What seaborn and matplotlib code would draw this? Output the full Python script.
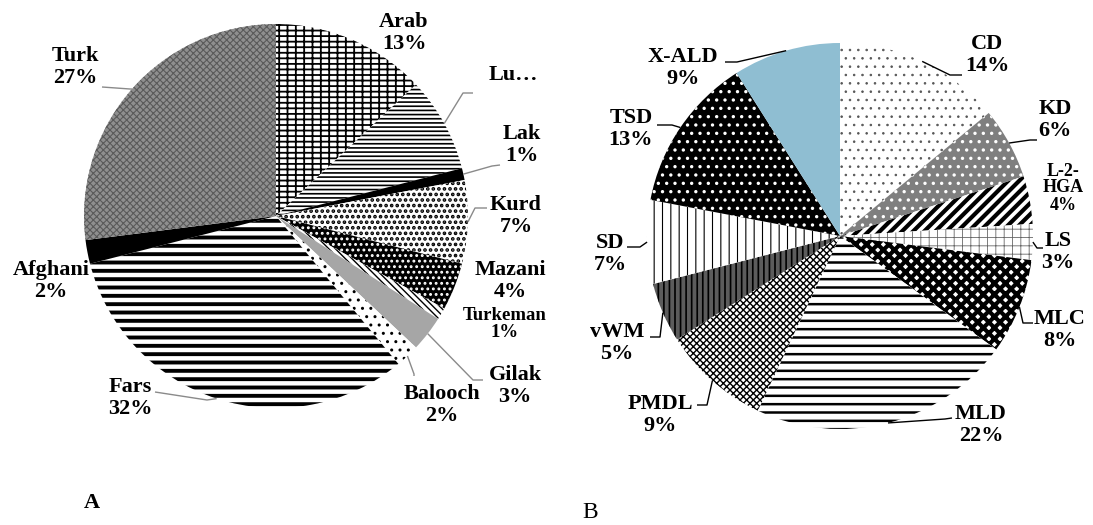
import matplotlib.pyplot as plt
import seaborn as sns
import numpy as np

sns.set_theme(style="white")
plt.rcParams['font.family'] = ['Liberation Serif', 'DejaVu Serif']
plt.rcParams['text.color'] = 'black'
plt.rcParams['hatch.linewidth'] = 1.0

# Pie A - ethnic groups (clockwise from 12 o'clock)
ethnic = ['Arab', 'Lu…', 'Lak', 'Kurd', 'Mazani', 'Turkeman', 'Gilak', 'Balooch', 'Fars', 'Afghani', 'Turk']
ethnic_pct = [13, 8, 1, 7, 4, 1, 3, 2, 32, 2, 27]

# Pie B - diagnoses (clockwise from 12 o'clock)
disease = ['CD', 'KD', 'L-2-HGA', 'LS', 'MLC', 'MLD', 'PMDL', 'vWM', 'SD', 'TSD', 'X-ALD']
disease_pct = [14, 6, 4, 3, 8, 22, 9, 5, 7, 13, 9]

# face colour, hatch, hatch colour, hatch width
style_a = [('white', '---||', 'black', 1.3),
           ('white', '----', 'black', 1.2),
           ('black', '', 'black', 1.0),
           ('white', '...', 'black', 1.8),
           ('black', '...', 'white', 1.3),
           ('white', '\\\\\\\\\\', 'black', 1.0),
           ('#a6a6a6', '', '#a6a6a6', 1.0),
           ('white', '..', 'black', 1.0),
           ('white', '--', 'black', 2.8),
           ('black', '', 'black', 1.0),
           ('#8f8f8f', 'xxxxx', '#5a5a5a', 0.8)]
style_b = [('white', '..', '#555555', 0.6),
           ('#7f7f7f', '..', 'white', 1.2),
           ('white', '///', 'black', 3.0),
           ('white', '++', '#666666', 0.6),
           ('white', 'xxx', 'black', 3.0),
           ('white', '--', 'black', 1.8),
           ('white', 'xxxxx', 'black', 1.0),
           ('#5c5c5c', '|||', 'black', 1.2),
           ('white', '||', 'black', 0.8),
           ('black', '..', 'white', 1.2),
           ('#8fbed2', '', '#8fbed2', 1.0)]

# label centres (image pixels)
pos_a = [(404, 33), (513, 75), (522, 145), (516, 216), (510, 281), (505, 324),
         (515, 386), (442, 405), (130, 398), (51, 281), (75, 67)]
pos_b = [(987, 55), (1055, 120), (1063, 188), (1058, 252), (1060, 330), (981, 425),
         (660, 415), (617, 343), (610, 254), (631, 129), (683, 68)]

# leader lines: elbow point, end point next to the label (image pixels)
lead_a = [None, ((463, 93), (473, 93)), ((492, 166), (500, 165)), ((475, 208), (487, 208)),
          None, None, ((473, 380), (483, 380)), ((414, 374), (414, 376)),
          ((207, 400), (155, 392)), None, ((130, 89), (102, 87))]
lead_b = [((950, 75), (962, 75)), ((1030, 140), (1037, 140)), None,
          ((1037, 248), (1043, 248)), ((1023, 323), (1033, 323)), ((945, 419), (952, 418)),
          ((707, 405), (697, 405)), ((660, 337), (650, 337)), ((640, 247), (627, 247)),
          ((672, 125), (657, 125)), ((737, 62), (725, 62))]

W, H = 1093, 525
fig = plt.figure(figsize=(W / 100, H / 100), dpi=100)
ax = fig.add_axes([0, 0, 1, 1])


def draw_pie(values, names, styles, positions, leaders, center, radius, line_color):
    cx, cy = center
    wedges, _ = ax.pie(values, startangle=90, counterclock=False,
                       center=(cx, H - cy), radius=radius,
                       wedgeprops=dict(linewidth=0))
    for w, (fc, hatch, hc, hlw) in zip(wedges, styles):
        w.set_facecolor(fc)
        w.set_edgecolor(hc)
        w.set_hatch(hatch)
        if hasattr(w, 'set_hatch_linewidth'):
            w.set_hatch_linewidth(hlw)
    for w, name, val, (tx, ty), lead in zip(wedges, names, values, positions, leaders):
        if name == 'Lu…':
            txt = name
        elif name == 'L-2-HGA':
            txt = f'L-2-\nHGA\n{val}%'
        else:
            txt = f'{name}\n{val}%'
        size, ls = 16, 1.12
        if name == 'Turkeman':
            size, ls = 13.5, 1.05
        elif name == 'L-2-HGA':
            size, ls = 13, 1.0
        ax.text(tx, H - ty, txt, ha='center', va='center', fontsize=size,
                fontweight='bold', linespacing=ls)
        if lead is not None:
            mid = np.deg2rad((w.theta1 + w.theta2) / 2)
            px = cx + radius * np.cos(mid)
            py = H - cy + radius * np.sin(mid)
            (ex, ey), (lx, ly) = lead
            ax.plot([px, ex, lx], [py, H - ey, H - ly], color=line_color, lw=1.0,
                    solid_capstyle='butt')


draw_pie(ethnic_pct, ethnic, style_a, pos_a, lead_a, (276, 216), 192, '#8a8a8a')
draw_pie(disease_pct, disease, style_b, pos_b, lead_b, (840, 236), 193, 'black')

ax.text(92, H - 503, 'A', ha='center', va='center', fontsize=16, fontweight='bold')
ax.text(590, H - 512, 'B', ha='center', va='center', fontsize=17)

ax.set_xlim(0, W)
ax.set_ylim(0, H)
ax.set_aspect('equal')
ax.axis('off')

fig.savefig('out.png', dpi=100)
